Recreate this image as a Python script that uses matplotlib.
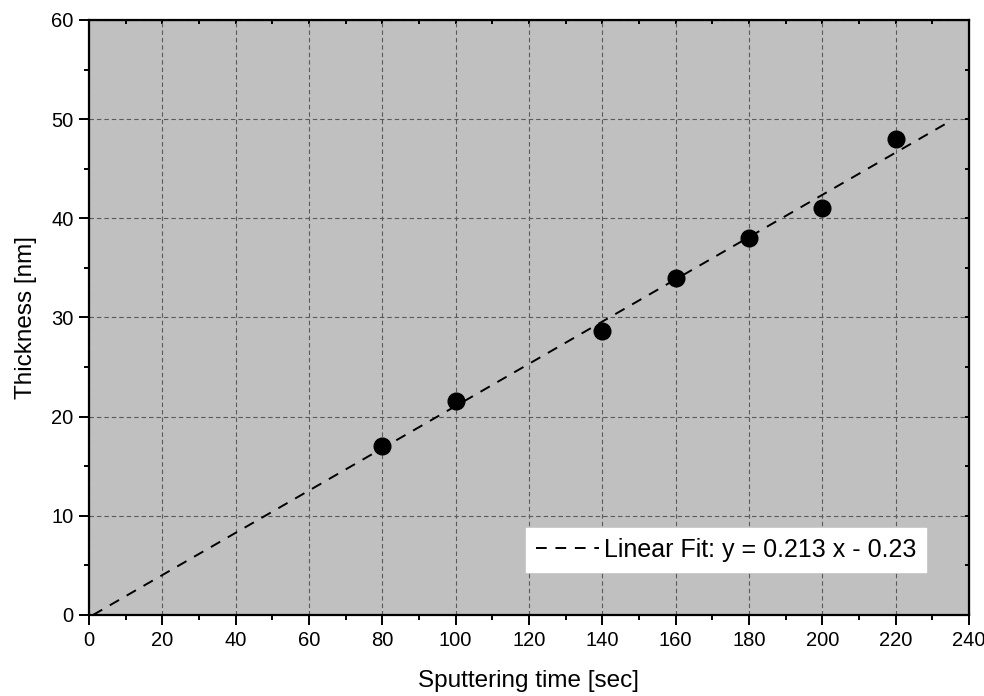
import numpy as np
import matplotlib.pyplot as plt
from matplotlib.ticker import MultipleLocator

plt.rcParams['font.family'] = ['Liberation Sans', 'DejaVu Sans']

# measured points
sputter_time = [80, 100, 140, 160, 180, 200, 220]
thickness = [17.0, 21.6, 28.6, 34.0, 38.0, 41.0, 48.0]

# linear fit parameters
SLOPE = 0.213
INTERCEPT = -0.23
FIT_RANGE = [1.08, 234.0]


def main():
    fig = plt.figure(figsize=(9.84, 6.96), dpi=100)
    ax = fig.add_axes([89 / 984, 1 - 615 / 696, 880 / 984, 595 / 696])
    ax.set_facecolor('#c0c0c0')

    x_fit = np.array(FIT_RANGE)
    ax.plot(x_fit, SLOPE * x_fit + INTERCEPT, color='black', lw=1.4,
            dashes=(5.5, 4.5), label='Linear Fit: y = 0.213 x - 0.23',
            zorder=3)
    ax.plot(sputter_time, thickness, 'o', color='black', ms=12, zorder=4)

    ax.set_xlim(0, 240)
    ax.set_ylim(0, 60)
    ax.xaxis.set_major_locator(MultipleLocator(20))
    ax.xaxis.set_minor_locator(MultipleLocator(10))
    ax.yaxis.set_major_locator(MultipleLocator(10))
    ax.yaxis.set_minor_locator(MultipleLocator(5))

    ax.grid(True, which='major', color='#5a5a5a', ls=(0, (4, 2.7)), lw=0.8)
    ax.set_axisbelow(True)

    ax.tick_params(which='both', direction='out', width=1.4, labelsize=14.5,
                   top=False, right=False, pad=4)
    ax.tick_params(which='major', length=7.2)
    ax.tick_params(which='minor', length=3.6)
    for spine in ax.spines.values():
        spine.set_linewidth(1.6)

    # small inward ticks on the top and right axes
    sec_x = ax.secondary_xaxis('top')
    sec_x.xaxis.set_major_locator(MultipleLocator(20))
    sec_x.xaxis.set_minor_locator(MultipleLocator(10))
    sec_x.tick_params(which='both', direction='in', labeltop=False,
                      width=1.4, length=3)
    sec_y = ax.secondary_yaxis('right')
    sec_y.yaxis.set_major_locator(MultipleLocator(10))
    sec_y.yaxis.set_minor_locator(MultipleLocator(5))
    sec_y.tick_params(which='both', direction='in', labelright=False,
                      width=1.4, length=3)

    ax.set_xlabel('Sputtering time [sec]', fontsize=17.5, labelpad=15)
    ax.set_ylabel('Thickness [nm]', fontsize=17.5, labelpad=10)

    leg = ax.legend(loc='lower right', bbox_to_anchor=(0.951, 0.0723),
                    borderaxespad=0, fontsize=18, frameon=True,
                    fancybox=False, handlelength=2.5, handletextpad=0.2,
                    borderpad=0.4)
    leg.get_frame().set_edgecolor('white')
    leg.get_frame().set_facecolor('white')
    leg.get_frame().set_alpha(1)

    fig.savefig('out.png', dpi=100)


if __name__ == "__main__":
    main()
